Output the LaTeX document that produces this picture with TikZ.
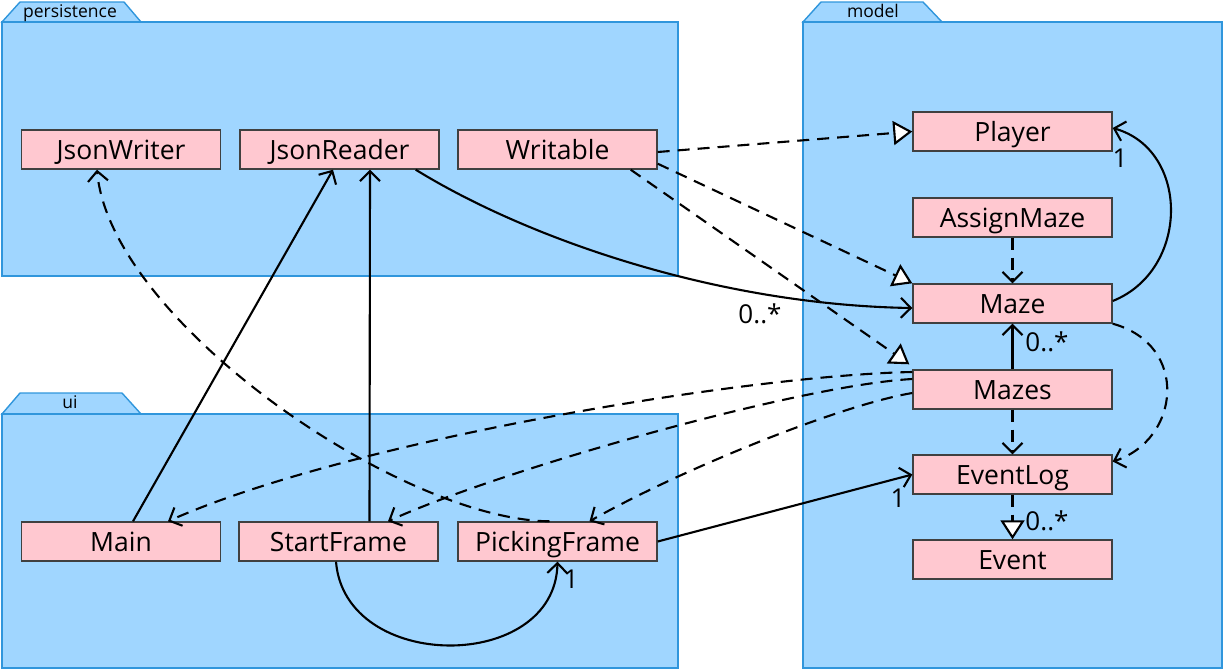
\documentclass[tikz,border=0pt]{standalone}
\usepackage{fontspec}
\setmainfont{Open Sans}
\usetikzlibrary{arrows.meta}
\definecolor{pkgfill}{RGB}{160,214,255}
\definecolor{pkgline}{RGB}{48,150,220}
\definecolor{classfill}{RGB}{255,200,208}
\definecolor{classline}{RGB}{64,64,64}

\begin{document}
\begin{tikzpicture}[x=1pt,y=-1pt,
    class node/.style={rectangle,draw=classline,fill=classfill,line width=1.4pt,minimum width=199pt,minimum height=39pt,inner sep=0pt,text height=19pt,text depth=0pt,font=\fontsize{26.5}{26.5}\selectfont},
    pkg body/.style={draw=pkgline,fill=pkgfill,line width=1.4pt},
    pkg label/.style={inner sep=0pt,anchor=base,font=\fontsize{17.5}{17.5}\selectfont},
    mult/.style={inner sep=0pt,text height=19pt,text depth=0pt,font=\fontsize{26}{26}\selectfont},
    assoc/.style={line width=2.1pt,-{Straight Barb[length=10pt,width=20pt]}},
    dep/.style={assoc,dash pattern=on 12pt off 8pt},
    impl/.style={line width=2.1pt,dash pattern=on 12pt off 8pt,-{Triangle[length=19pt,width=24pt,fill=white]}}]
    \useasboundingbox (0,0) rectangle (1225,670);

    % packages
    \draw[pkg body] (2,22) -- (20,2) -- (124,2) -- (141,22) -- cycle;
    \draw[pkg body] (2,22) rectangle (678,276);
    \node[pkg label] (persistence) at (70,17) {persistence};
    \draw[pkg body] (803,22) -- (821,2) -- (923,2) -- (942,22) -- cycle;
    \draw[pkg body] (803,22) rectangle (1222,668);
    \node[pkg label] (model) at (873,17) {model};
    \draw[pkg body] (2,414) -- (20,393) -- (122,393) -- (141,414) -- cycle;
    \draw[pkg body] (2,414) rectangle (678,668);
    \node[pkg label] (ui) at (70,408) {ui};

    % classes
    \node[class node] (JsonWriter) at (121,149.5) {JsonWriter};
    \node[class node] (JsonReader) at (339.5,149.5) {JsonReader};
    \node[class node] (Writable) at (557.5,149.5) {Writable};
    \node[class node] (Player) at (1012.5,131.5) {Player};
    \node[class node] (AssignMaze) at (1012.5,217.5) {AssignMaze};
    \node[class node] (Maze) at (1012.5,303.5) {Maze};
    \node[class node] (Mazes) at (1012.5,389.5) {Mazes};
    \node[class node] (EventLog) at (1012.5,474.5) {EventLog};
    \node[class node] (Event) at (1012.5,559.5) {Event};
    \node[class node] (Main) at (121,541.5) {Main};
    \node[class node] (StartFrame) at (338.5,541.5) {StartFrame};
    \node[class node] (PickingFrame) at (557.5,541.5) {PickingFrame};

    % realizations
    \path[impl] ([yshift=-2.5pt]Writable.east) edge (Player.west);
    \path[impl] ([yshift=6pt]Writable.south east) edge (Maze.north west);
    \path[impl] ([xshift=-27pt]Writable.south east) edge ([xshift=-3pt,yshift=5pt]Mazes.north west);
    \path[impl] (EventLog.south) edge (Event.north);

    % associations
    \draw[assoc] ([xshift=-24pt]JsonReader.south east) .. controls (530,240) and (720,305) .. ([yshift=-4.5pt]Maze.west);
    \draw[assoc] ([yshift=2.5pt]Maze.east) .. controls (1190,270) and (1190,150) .. ([yshift=3.5pt]Player.east);
    \path[assoc] (Mazes.north) edge (Maze.south);
    \path[assoc] (PickingFrame.east) edge (EventLog.west);
    \draw[assoc] ([xshift=-2.5pt]StartFrame.south) .. controls (345,673) and (555,673) .. (PickingFrame.south);
    \path[assoc] ([xshift=12pt]Main.north) edge ([xshift=-6.5pt]JsonReader.south);
    \path[assoc] ([xshift=31pt]StartFrame.north) edge ([xshift=30.5pt]JsonReader.south);

    % dependencies
    \path[dep] (AssignMaze.south) edge (Maze.north);
    \path[dep] (Mazes.south) edge (EventLog.north);
    \draw[dep] (Maze.south east) .. controls (1190,345) and (1180,440) .. ([yshift=13pt]EventLog.east);
    \draw[dep] ([xshift=-8pt]PickingFrame.north) .. controls (400,520) and (110,320) .. ([xshift=-24pt]JsonWriter.south);
    \draw[dep] ([yshift=17.5pt]Mazes.west) .. controls (750,375) and (350,440) .. ([xshift=47pt]Main.north);
    \draw[dep] ([yshift=10.5pt]Mazes.west) .. controls (800,385) and (500,470) .. ([xshift=49.5pt]StartFrame.north);
    \draw[dep] ([yshift=-3.5pt]Mazes.west) .. controls (840,405) and (680,470) .. ([xshift=32pt]PickingFrame.north);

    % multiplicities
    \node[mult] (multMazesJr) at (760,313.5) {0..*};
    \node[mult] (multPlayer) at (1120,157.5) {1};
    \node[mult] (multMaze) at (1047,342) {0..*};
    \node[mult] (multEvent) at (1047,521) {0..*};
    \node[mult] (multEventLog) at (898,498) {1};
    \node[mult] (multPicking) at (571,579) {1};
\end{tikzpicture}
\end{document}
